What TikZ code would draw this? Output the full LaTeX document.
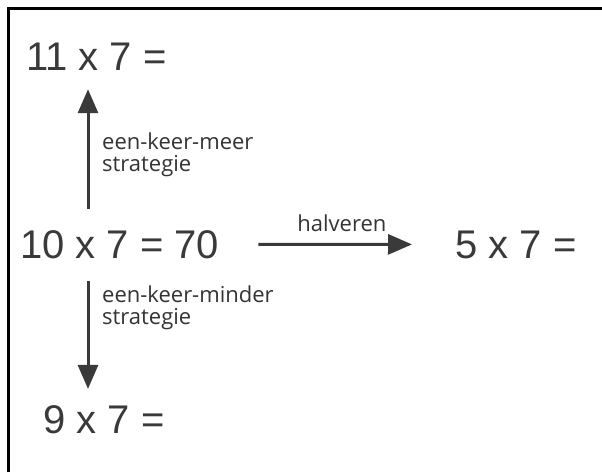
\documentclass[tikz,border=0pt]{standalone}
\usepackage{fontspec}
\setmainfont{Liberation Sans}
\newfontfamily\notefont{Open Sans}
\usepackage{xcolor}
\usetikzlibrary{arrows.meta}
\definecolor{inkgray}{HTML}{3A3A3A}

\begin{document}
\begin{tikzpicture}[x=1pt,y=-1pt,
  sum/.style={inner sep=0pt,anchor=base west,text=inkgray,font=\fontsize{40}{40}\selectfont},
  note/.style={inner sep=0pt,anchor=north west,align=left,text=inkgray!90!black,font=\notefont\fontsize{22}{22}\selectfont},
  arr/.style={line width=3pt,draw=inkgray,-{Triangle[length=24pt,width=20pt]}}]
\useasboundingbox (0,0) rectangle (602,472);
\fill[white] (0,0) rectangle (602,472);
% frame, only top and left edges show
\draw[line width=3pt] (8.5,472) -- (8.5,8.5) -- (602,8.5);
% the sums
\node[sum] (eleven) at (26,70) {11 x 7 =};
\node[sum] (ten) at (20,258) {10 x 7 = 70};
\node[sum] (five) at (455,258) {5 x 7 =};
\node[sum] (nine) at (43,433) {9 x 7 =};
\coordinate (vx) at (88,0);
% one more time
\draw[arr,shorten <=21pt,shorten >=19pt] (ten.north -| vx) -- (eleven.south -| vx);
\node[note] (meer) at (102,133) {een-keer-meer\\strategie};
% one less time
\draw[arr,shorten <=22pt,shorten >=16pt] (ten.south -| vx) -- (nine.north -| vx);
\node[note] (minder) at (102,286) {een-keer-minder\\strategie};
% halving
\draw[arr,shorten <=39pt,shorten >=43pt] (ten.east) -- (five.west)
  node[pos=0.52,above=11pt,inner sep=0pt,text=inkgray!90!black,font=\notefont\fontsize{22}{22}\selectfont] (half) {halveren};
\end{tikzpicture}
\end{document}
